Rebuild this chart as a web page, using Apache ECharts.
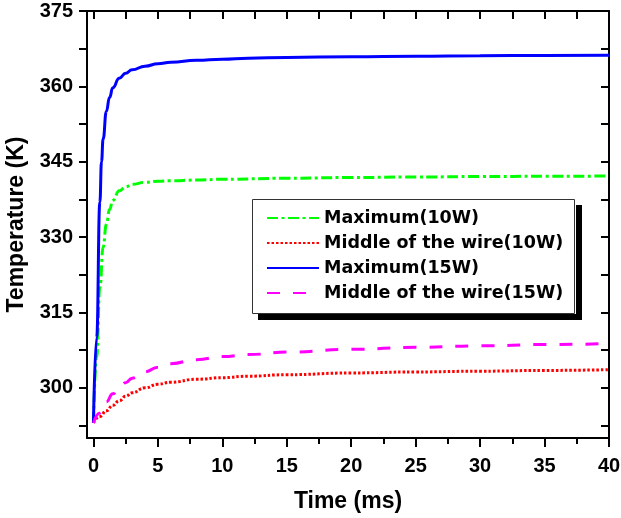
<!DOCTYPE html>
<html><head><meta charset="utf-8">
<script src="https://cdn.jsdelivr.net/npm/echarts@6/dist/echarts.min.js"></script>
<style>html,body{margin:0;padding:0;background:#fff}#c{width:621px;height:518px}</style>
</head><body><div id="c"></div>
<script>
const seriesNames = ['Maximum(10W)', 'Middle of the wire(10W)', 'Maximum(15W)', 'Middle of the wire(15W)'];
const tMax10 = [0,0.25,0.5,0.75,1,1.25,1.5,2,2.5,3,4,5,6,8,10,15,20,25,30,35,40];
const vMax10 = [293,306,320,328,332.5,335.5,337.3,339.2,340,340.5,340.9,341.1,341.2,341.35,341.5,341.7,341.85,341.95,342.05,342.1,342.15];
const tMax15 = [0,0.25,0.5,0.625,0.75,1,1.25,1.5,2,2.5,3,4,5,6,8,10,12,15,20,25,30,35,40];
const vMax15 = [293,310,337,345,349.5,355,357.8,359.7,361.6,362.6,363.3,364,364.5,364.8,365.2,365.4,365.6,365.75,365.9,366,366.1,366.15,366.2];
const tMid = [0,0.5,1,1.5,2,2.5,3,4,5,6,8,10,12,15,20,25,30,35,40];
const vMid10 = [293,294.3,295.4,296.5,297.4,298.3,299,300,300.7,301.1,301.7,302,302.3,302.6,302.95,303.15,303.3,303.45,303.6];
const vMid15 = [293,295,297.2,298.8,300,301,301.9,303.2,304.1,304.8,305.6,306.2,306.6,307.1,307.65,308.05,308.35,308.6,308.8];
const xLabels = [0,5,10,15,20,25,30,35,40];
const xMinor = [2.5,7.5,12.5,17.5,22.5,27.5,32.5,37.5];
const xAll = [0,2.5,5,7.5,10,12.5,15,17.5,20,22.5,25,27.5,30,32.5,35,37.5,40];
const yLabels = [300,315,330,345,360,375];
const yTicks = [292.5,300,307.5,315,322.5,330,337.5,345,352.5,360,367.5,375];

const zip = (t, v) => t.map((x, i) => [x, v[i]]);
const FF = '"Liberation Sans", Arial, sans-serif';
const FL = '"DejaVu Sans", sans-serif';
const lineBlack = {color:'#000', width:2};

const chart = echarts.init(document.getElementById('c'), null, {renderer:'canvas'});
chart.setOption({
  animation: false,
  backgroundColor: '#fff',
  grid: {left:87, right:12, top:11, bottom:80, containLabel:false, outerBoundsMode:'none'},
  xAxis: [
    {type:'value', min:-0.5, max:40, position:'bottom',
     axisLine:{onZero:false, lineStyle:lineBlack},
     axisTick:{customValues:xLabels, length:9, lineStyle:lineBlack},
     axisLabel:{customValues:xLabels, fontSize:20, fontWeight:'bold', color:'#000', fontFamily:FF, margin:18},
     splitLine:{show:false},
     name:'Time (ms)', nameLocation:'middle', nameGap:52,
     nameTextStyle:{fontSize:23, fontWeight:'bold', color:'#000', fontFamily:FF}},
    {type:'value', min:-0.5, max:40, position:'bottom',
     axisLine:{show:false, onZero:false},
     axisTick:{customValues:xMinor, length:6, lineStyle:lineBlack},
     axisLabel:{show:false}, splitLine:{show:false}},
    {type:'value', min:-0.5, max:40, position:'top',
     axisLine:{onZero:false, lineStyle:lineBlack},
     axisTick:{customValues:xAll, inside:true, length:8, lineStyle:lineBlack},
     axisLabel:{show:false}, splitLine:{show:false}}
  ],
  yAxis: [
    {type:'value', min:290, max:375, position:'left',
     axisLine:{onZero:false, lineStyle:lineBlack},
     axisTick:{customValues:yTicks, length:8, lineStyle:lineBlack},
     axisLabel:{customValues:yLabels, fontSize:20, fontWeight:'bold', color:'#000', fontFamily:FF, margin:14},
     splitLine:{show:false},
     name:'Temperature (K)', nameLocation:'middle', nameGap:59, nameRotate:90,
     nameTextStyle:{fontSize:23, fontWeight:'bold', color:'#000', fontFamily:FF}},
    {type:'value', min:290, max:375, position:'right',
     axisLine:{onZero:false, lineStyle:lineBlack},
     axisTick:{customValues:yTicks, inside:true, length:8, lineStyle:lineBlack},
     axisLabel:{show:false}, splitLine:{show:false}}
  ],
  legend: {
    orient:'vertical', left:252, top:199,
    padding:[9,12,11,14], itemWidth:52, itemHeight:14, itemGap:5,
    backgroundColor:'#fff', borderWidth:0,
    shadowColor:'#000', shadowBlur:0, shadowOffsetX:6, shadowOffsetY:6,
    itemStyle:{opacity:0, borderWidth:0},
    textStyle:{fontSize:17.5, fontWeight:'bold', color:'#000', fontFamily:FL, lineHeight:20, width:240},
    data: seriesNames
  },
  graphic: [
    {type:'rect', z:100, silent:true,
     shape:{x:252.5, y:199.5, width:322, height:114},
     style:{fill:'none', stroke:'#333', lineWidth:1}}
  ],
  series: [
    {name:seriesNames[0], type:'line', data:zip(tMax10, vMax10), showSymbol:false, symbol:'none', smooth:true, smoothMonotone:'x',
     lineStyle:{color:'#00ff00', width:3, type:[11,3.5,3,3.5]}, itemStyle:{color:'#00ff00'}},
    {name:seriesNames[1], type:'line', data:zip(tMid, vMid10), showSymbol:false, symbol:'none', smooth:true, smoothMonotone:'x',
     lineStyle:{color:'#ff0000', width:3, type:[2.5,2]}, itemStyle:{color:'#ff0000'}},
    {name:seriesNames[2], type:'line', data:zip(tMax15, vMax15), showSymbol:false, symbol:'none', smooth:true, smoothMonotone:'x',
     lineStyle:{color:'#0000ff', width:3, type:'solid'}, itemStyle:{color:'#0000ff'}},
    {name:seriesNames[3], type:'line', data:zip(tMid, vMid15), showSymbol:false, symbol:'none', smooth:true, smoothMonotone:'x',
     lineStyle:{color:'#ff00ff', width:3, type:[13,13]}, itemStyle:{color:'#ff00ff'}}
  ]
});
</script>
</body></html>
